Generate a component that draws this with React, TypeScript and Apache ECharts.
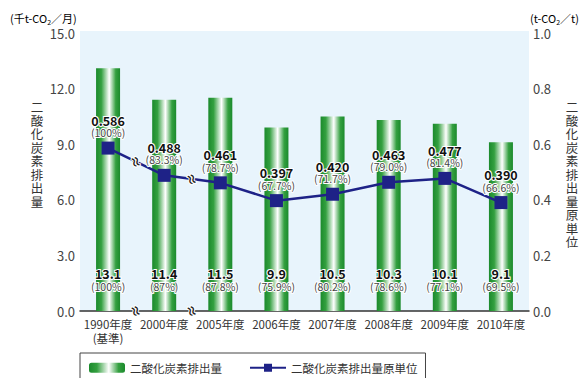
import React, { useEffect, useRef } from "react";
import * as echarts from "echarts";

const categories = ["1990年度\n(基準)", "2000年度", "2005年度", "2006年度", "2007年度", "2008年度", "2009年度", "2010年度"];
const emissions = [13.1, 11.4, 11.5, 9.9, 10.5, 10.3, 10.1, 9.1];
const emissionPct = ["100%", "87%", "87.8%", "75.9%", "80.2%", "78.6%", "77.1%", "69.5%"];
const intensity = [0.586, 0.488, 0.461, 0.397, 0.42, 0.463, 0.477, 0.39];
const intensityPct = ["100%", "83.3%", "78.7%", "67.7%", "71.7%", "79.0%", "81.4%", "66.6%"];
const leftTicks = { min: 0, max: 15, interval: 3 };
const rightTicks = { min: 0, max: 1, interval: 0.2 };
const barName = "二酸化炭素排出量";
const lineName = "二酸化炭素排出量原単位";
const breakAfter = [0, 1];

const FONT = '"Noto Sans CJK JP", "Noto Sans", sans-serif';
const NAVY = "#1e2287";
const BG = "#e8f4fc";

export default function App() {
  const ref = useRef<HTMLDivElement>(null);
  useEffect(() => {
    if (!ref.current) return;
    const chart = echarts.init(ref.current, undefined, { renderer: "svg" });
    const barGrad = new echarts.graphic.LinearGradient(0, 0, 1, 0, [
      { offset: 0, color: "#1b8a2c" },
      { offset: 0.22, color: "#34a040" },
      { offset: 0.55, color: "#ffffff" },
      { offset: 0.82, color: "#34a040" },
      { offset: 1, color: "#1b8a2c" },
    ]);
    const subRich = {
      a: { fontFamily: FONT, fontSize: 11, color: "#333", lineHeight: 14 },
      s: { fontFamily: FONT, fontSize: 7, color: "#333", lineHeight: 14, padding: [7, 0, 0, 0] },
    };
    const gridLeft = 80, gridRight = 53, gridTop = 33, gridHeight = 278;
    chart.setOption({
      animation: false,
      textStyle: { fontFamily: FONT },
      grid: {
        left: gridLeft, right: gridRight, top: gridTop, height: gridHeight,
        show: true, backgroundColor: BG, borderWidth: 0,
      },
      legend: {
        left: 80, top: 353,
        borderColor: "#444", borderWidth: 1,
        padding: [9, 8, 10, 9],
        itemGap: 27, itemWidth: 36, itemHeight: 10,
        textStyle: { fontFamily: FONT, fontSize: 11.5, color: "#333" },
        data: [barName, lineName],
      },
      xAxis: {
        type: "category",
        data: categories,
        axisLine: { lineStyle: { color: "#333", width: 1.5 } },
        axisTick: { show: false },
        axisLabel: { color: "#333", fontSize: 11.5, lineHeight: 14, margin: 6, interval: 0, fontFamily: FONT },
      },
      yAxis: [
        {
          type: "value", ...leftTicks,
          axisLine: { show: false }, axisTick: { show: false }, splitLine: { show: false },
          axisLabel: { color: "#444", fontSize: 13, margin: 5, formatter: (v: number) => v.toFixed(1), fontFamily: FONT },
        },
        {
          type: "value", ...rightTicks,
          axisLine: { show: false }, axisTick: { show: false }, splitLine: { show: false },
          axisLabel: { color: "#444", fontSize: 13, margin: 4, formatter: (v: number) => v.toFixed(1), fontFamily: FONT },
        },
      ],
      series: [
        {
          name: barName, type: "bar", data: emissions, barWidth: 24,
          itemStyle: { color: barGrad },
          label: {
            show: true, position: "insideBottom", distance: 19,
            formatter: (p: any) => `{v|${p.value.toFixed(1)}}\n{p|(${emissionPct[p.dataIndex]})}`,
            rich: {
              v: { fontFamily: FONT, fontSize: 12.5, fontWeight: "bold", color: "#111", textBorderColor: "#fff", textBorderWidth: 2, lineHeight: 13 },
              p: { fontFamily: FONT, fontSize: 10.5, color: "#444", textBorderColor: "#fff", textBorderWidth: 2, lineHeight: 12 },
            },
          },
        },
        {
          name: lineName, type: "line", yAxisIndex: 1, data: intensity,
          symbol: "rect", symbolSize: 13,
          lineStyle: { color: NAVY, width: 2.5 },
          itemStyle: { color: NAVY },
          label: {
            show: true, position: "top", distance: 3,
            formatter: (p: any) => `{v|${p.value.toFixed(3)}}\n{p|(${intensityPct[p.dataIndex]})}`,
            rich: {
              v: { fontFamily: FONT, fontSize: 12.5, fontWeight: "bold", color: "#111", textBorderColor: "#fff", textBorderWidth: 2, lineHeight: 13 },
              p: { fontFamily: FONT, fontSize: 10.5, color: "#444", textBorderColor: "#fff", textBorderWidth: 2, lineHeight: 12 },
            },
          },
          z: 3,
        },
      ],
    });

    const vert = (s: string) => s.split("").join("\n");
    const graphics: any[] = [
      { type: "rect", shape: { x: gridLeft, y: gridTop - 2, width: 582 - gridLeft - gridRight, height: 2 }, style: { fill: BG }, silent: true },
      { type: "text", left: 10, top: 11, style: { text: "{a|(千t-CO}{s|2}{a|／月)}", rich: subRich } },
      { type: "text", left: 530, top: 11, style: { text: "{a|(t-CO}{s|2}{a|／t)}", rich: subRich } },
      { type: "text", x: 37, y: 100, style: { text: vert(barName), font: `12.5px ${FONT}`, fill: "#333", align: "center", verticalAlign: "top", lineHeight: 13.5 } },
      { type: "text", x: 572, y: 100, style: { text: vert(lineName), font: `12.5px ${FONT}`, fill: "#333", align: "center", verticalAlign: "top", lineHeight: 13.5 } },
    ];
    const axisY = chart.convertToPixel({ yAxisIndex: 0 }, 0) as number;
    breakAfter.forEach((i) => {
      const a = chart.convertToPixel({ xAxisIndex: 0, yAxisIndex: 1 }, [i, intensity[i]]) as number[];
      const b = chart.convertToPixel({ xAxisIndex: 0, yAxisIndex: 1 }, [i + 1, intensity[i + 1]]) as number[];
      const mx = (a[0] + b[0]) / 2;
      const my = (a[1] + b[1]) / 2;
      [[mx, my], [mx, axisY]].forEach(([x, y]) => {
        graphics.push({
          type: "text", x, y, rotation: -Math.PI / 2 + 0.35, z: 10,
          style: { text: "≈", font: `bold 13px ${FONT}`, fill: "#222", stroke: "#fff", lineWidth: 2, align: "center", verticalAlign: "middle" },
        });
      });
    });
    chart.setOption({ graphic: graphics });
    return () => chart.dispose();
  }, []);
  return <div ref={ref} style={{ width: 582, height: 378, position: "absolute", left: 0, top: 0 }} />;
}
